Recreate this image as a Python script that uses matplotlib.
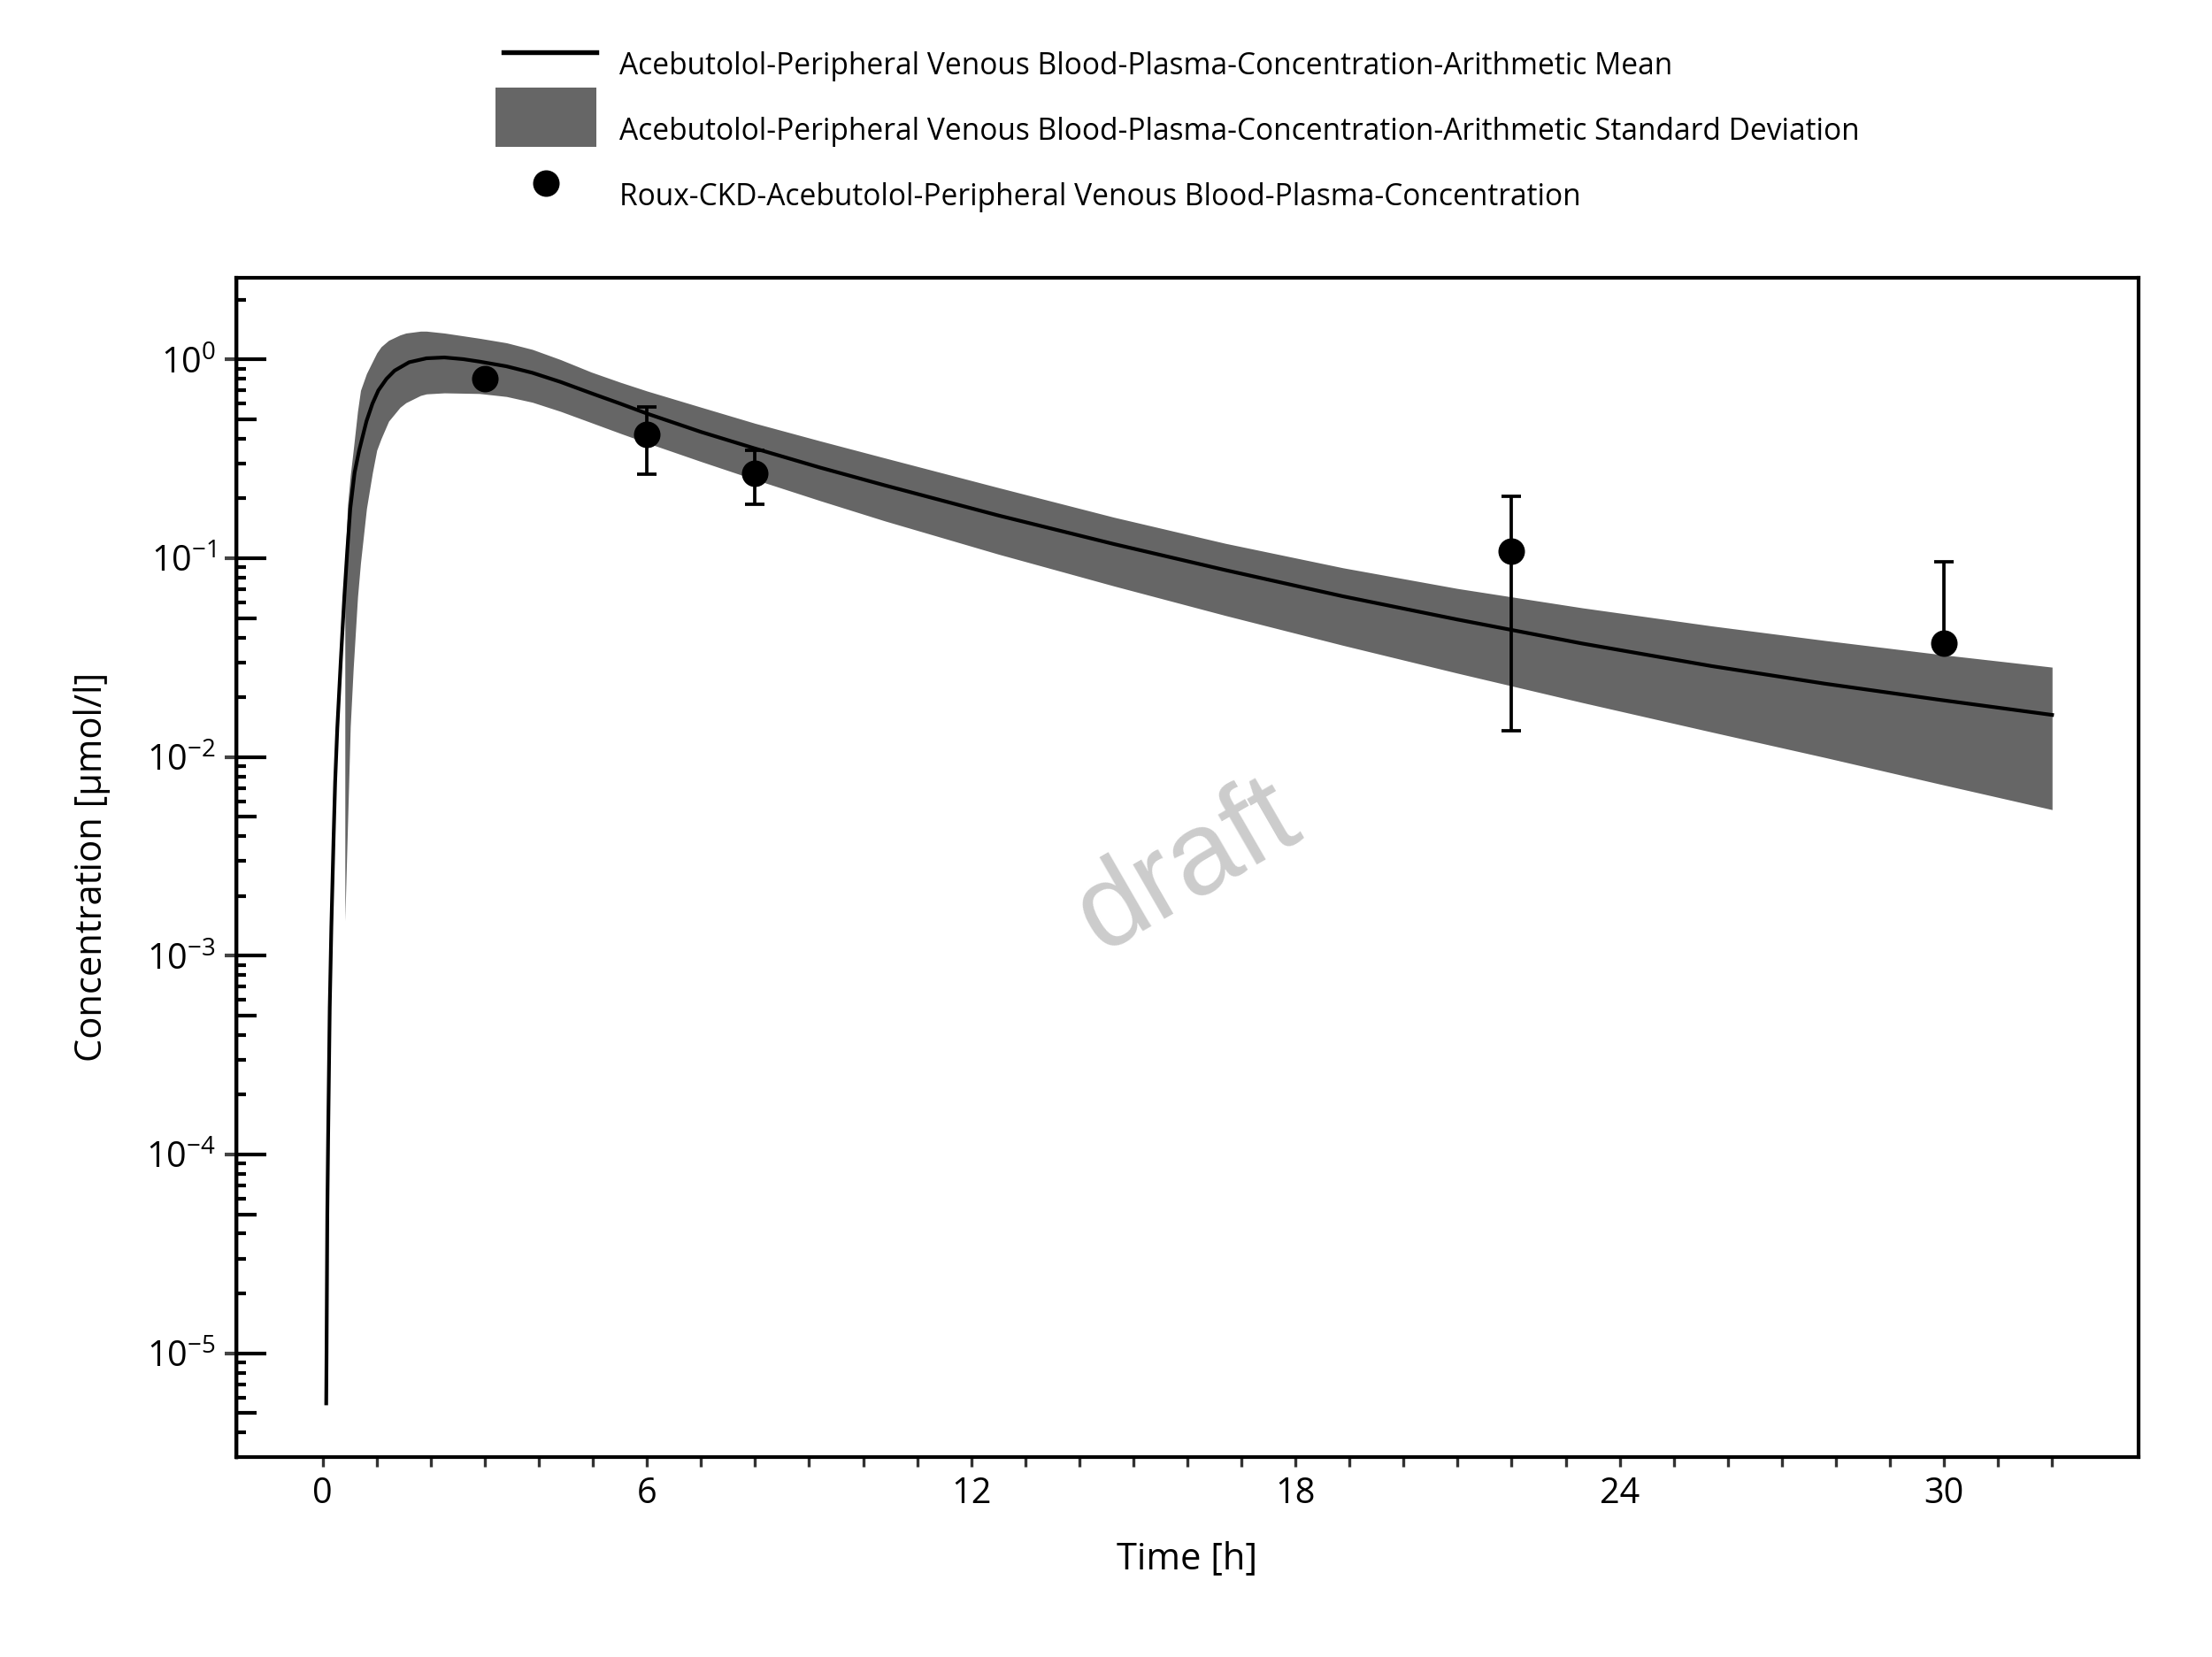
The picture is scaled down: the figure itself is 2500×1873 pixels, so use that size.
import numpy as np
import matplotlib
matplotlib.use("Agg")
import matplotlib.pyplot as plt
from matplotlib.lines import Line2D
from matplotlib.patches import Patch
from matplotlib.legend_handler import HandlerLine2D
from matplotlib.transforms import Affine2D
from matplotlib.ticker import LogLocator, NullFormatter, NullLocator, FixedLocator

# ---------------- data ----------------
sim_time = [0.065, 0.071, 0.085, 0.10, 0.13, 0.16, 0.20, 0.23, 0.27, 0.333,
            0.40, 0.455, 0.51, 0.59, 0.675, 0.81, 0.92, 1.03, 1.18, 1.33,
            1.6, 1.92, 2.25, 2.6, 2.9, 3.4, 3.88, 4.4, 4.97, 5.5,
            6.0, 7.0, 8.0, 9.2, 10.4, 12.5, 14.64, 16.7, 18.88, 21.0,
            23.3, 25.7, 27.8, 29.9, 32.0]
sim_mean = [5.6e-6, 1.0e-5, 5.0e-5, 1.2e-4, 5.5e-4, 1.4e-3, 3.8e-3, 0.0075, 0.014, 0.030,
            0.064, 0.11, 0.178, 0.27, 0.35, 0.49, 0.60, 0.70, 0.80, 0.88,
            0.97, 1.015, 1.025, 1.005, 0.977, 0.925, 0.858, 0.772, 0.677, 0.601,
            0.535, 0.4325, 0.357, 0.2864, 0.233, 0.1644, 0.118, 0.0873, 0.0644, 0.0492,
            0.0373, 0.0287, 0.0234, 0.01945, 0.0163]

band_time = [0.41, 0.46, 0.51, 0.565, 0.645, 0.70, 0.81, 0.92, 1.0, 1.08,
             1.22, 1.43, 1.54, 1.81, 1.92, 2.25, 2.9, 3.4, 3.88, 4.4,
             4.97, 5.5, 6.0, 7.0, 8.0, 9.2, 10.4, 12.5, 14.64, 16.7,
             18.88, 21.0, 23.3, 25.7, 27.8, 29.9, 32.0]
band_upper = [0.09, 0.185, 0.26, 0.35, 0.55, 0.70, 0.85, 0.977, 1.08, 1.16,
              1.25, 1.33, 1.36, 1.39, 1.39, 1.36, 1.28, 1.215, 1.125, 1.0,
              0.865, 0.77, 0.695, 0.576, 0.478, 0.39, 0.32, 0.227, 0.161, 0.119,
              0.0896, 0.0705, 0.0564, 0.0457, 0.0386, 0.0329, 0.02835]
band_lower = [1.5e-3, 4.6e-3, 0.0142, 0.028, 0.064, 0.095, 0.178, 0.27, 0.35, 0.40,
              0.49, 0.575, 0.607, 0.66, 0.672, 0.68, 0.675, 0.652, 0.61, 0.549,
              0.4816, 0.4262, 0.381, 0.307, 0.249, 0.1952, 0.1543, 0.105, 0.0726, 0.0516,
              0.0365, 0.02643, 0.01883, 0.01337, 0.00995, 0.00734, 0.00544]

obs_time = [3.0, 6.0, 8.0, 22.0, 30.0]
obs_mean = [0.805, 0.42, 0.268, 0.109, 0.0375]
obs_sd = [np.nan, 0.155, 0.081, 0.0955, 0.059]

xticks_major = [0, 6, 12, 18, 24, 30]

label_mean = "Acebutolol-Peripheral Venous Blood-Plasma-Concentration-Arithmetic Mean"
label_sd = "Acebutolol-Peripheral Venous Blood-Plasma-Concentration-Arithmetic Standard Deviation"
label_obs = "Roux-CKD-Acebutolol-Peripheral Venous Blood-Plasma-Concentration"

# ---------------- style ----------------
plt.rcParams['font.family'] = ['Open Sans', 'DejaVu Sans']
plt.rcParams['mathtext.fontset'] = 'custom'
plt.rcParams['mathtext.rm'] = 'Open Sans'
plt.rcParams['mathtext.it'] = 'Open Sans'
plt.rcParams['mathtext.default'] = 'regular'

band_color = '#666666'
DPI = 300

fig = plt.figure(figsize=(2500 / DPI, 1873 / DPI), dpi=DPI)
ax = fig.add_axes([0.1068, 0.1207, 0.8600, 0.7118])
ax.set_yscale('log')

ax.fill_between(band_time, band_lower, band_upper, color=band_color, linewidth=0, zorder=1)
ax.plot(sim_time, sim_mean, color='black', lw=1.0, zorder=2)

obs_mean_a = np.array(obs_mean)
obs_sd_a = np.array(obs_sd)
lower_err = np.where(obs_mean_a - obs_sd_a > 0, obs_sd_a, 0.0)
ax.errorbar(obs_time, obs_mean, yerr=[lower_err, obs_sd_a], fmt='o', color='black',
            ms=6.2, capsize=2.7, elinewidth=0.9, capthick=0.9, zorder=3)

ax.set_xlim(-1.6, 33.6)

# x ticks
ax.xaxis.set_major_locator(FixedLocator(xticks_major))
ax.xaxis.set_minor_locator(FixedLocator(np.arange(0, int(max(sim_time)) + 1)))
ax.tick_params(axis='x', which='both', direction='out', length=2.6, width=0.8,
               color='#333333', pad=2.6, labelsize=9.5)

# y ticks
ax.yaxis.set_major_locator(LogLocator(base=10, numticks=20))
ax.yaxis.set_minor_locator(LogLocator(base=10, subs=[2, 3, 4, 6, 7, 8, 9], numticks=20))
ax.yaxis.set_minor_formatter(NullFormatter())
ax.tick_params(axis='y', which='major', direction='in', length=8.2, width=1.0, pad=5.5,
               labelsize=9.5)
ax.tick_params(axis='y', which='minor', direction='in', length=2.6, width=1.0)

sec5 = ax.secondary_yaxis('left')
sec5.yaxis.set_major_locator(LogLocator(base=10, subs=[5], numticks=20))
sec5.yaxis.set_major_formatter(NullFormatter())
sec5.yaxis.set_minor_locator(NullLocator())
sec5.tick_params(axis='y', which='major', direction='in', length=5.5, width=1.0)

secout = ax.secondary_yaxis('left')
secout.yaxis.set_major_locator(LogLocator(base=10, numticks=20))
secout.yaxis.set_major_formatter(NullFormatter())
secout.yaxis.set_minor_locator(NullLocator())
secout.tick_params(axis='y', which='major', direction='out', length=3.2, width=1.0,
                   color='#444444')

for s in ax.spines.values():
    s.set_linewidth(1.0)
    s.set_color('black')

ax.set_xlabel('Time [h]', fontsize=10)
ax.set_ylabel('Concentration [µmol/l]', fontsize=10)
ax.xaxis.set_label_coords(0.5, -0.071)
ax.yaxis.set_label_coords(-0.066, 0.5)

ax.text(0.5, 0.5, 'draft', transform=ax.transAxes, rotation=30, fontsize=32,
        color='#cccccc', ha='center', va='center', family=['Liberation Sans'], zorder=0)

h_line = Line2D([], [], color='black', lw=1.3)
h_band = Patch(facecolor=band_color, edgecolor='none')
h_obs = Line2D([], [], color='black', marker='o', ls='none', ms=6.2)
leg = fig.legend([h_line, h_band, h_obs], [label_mean, label_sd, label_obs], loc='upper left',
                 bbox_to_anchor=(560 / 2500, 1 - 25 / 1873), bbox_transform=fig.transFigure,
                 frameon=False, fontsize=8.06, handlelength=3.39, handleheight=2.69,
                 handletextpad=0.79, labelspacing=0.21, borderpad=0, borderaxespad=0,
                 numpoints=1, handler_map={h_line: HandlerLine2D(xpad=0.27)})
for t in leg.get_texts():
    t.set_transform(t.get_transform() + Affine2D().translate(0, -15))
for i in (0, 2):
    hh = leg.legend_handles[i]
    hh.set_transform(hh.get_transform() + Affine2D().translate(0, -12))

fig.savefig('out.png', dpi=DPI)
